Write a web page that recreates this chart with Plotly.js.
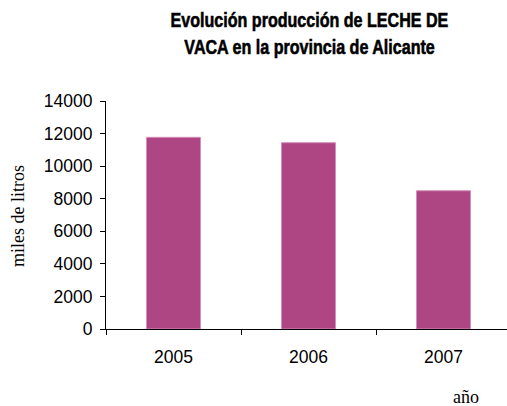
<!DOCTYPE html>
<html>
<head>
<meta charset="utf-8">
<script src="https://cdn.plot.ly/plotly-3.0.1.min.js"></script>
<style>
html,body{margin:0;padding:0;overflow:hidden;background:#fff;}
#chart{width:512px;height:406px;}
</style>
</head>
<body>
<div id="chart"></div>
<script>
const years = ['2005', '2006', '2007'];
const produccion = [11770, 11440, 8490];
const yTicks = [0, 2000, 4000, 6000, 8000, 10000, 12000, 14000];
const titleLines = ['Evolución producción de LECHE DE', 'VACA en la provincia de Alicante'];

const trace = {
  type: 'bar',
  x: years,
  y: produccion,
  width: 0.4,
  marker: {color: '#AD4682', line: {color: '#D68EBA', width: 1}},
  hoverinfo: 'x+y'
};

const titleFont = {family: '"Liberation Sans Narrow", "Liberation Sans", "DejaVu Sans", sans-serif', size: 21, color: '#000', weight: 'bold'};
const serifFont = {family: '"Liberation Serif", "Times New Roman", serif', size: 18, color: '#000'};
const tickFont = {family: 'Arial, "Liberation Sans", sans-serif', size: 17.5, color: '#000'};

const layout = {
  width: 512,
  height: 406,
  margin: {l: 106, r: 1, t: 101, b: 77},
  paper_bgcolor: '#ffffff',
  plot_bgcolor: '#ffffff',
  showlegend: false,
  xaxis: {
    type: 'category',
    range: [-0.5, 2.5],
    showline: true, linecolor: '#000', linewidth: 1,
    ticks: 'outside', tickson: 'boundaries', ticklen: 5, tickcolor: '#000', tickwidth: 1,
    ticklabelstandoff: 12,
    tickfont: tickFont,
    showgrid: false, zeroline: false, fixedrange: true
  },
  yaxis: {
    range: [0, 14000],
    tickvals: yTicks,
    ticktext: yTicks.map(String),
    showline: true, linecolor: '#000', linewidth: 1,
    ticks: 'outside', ticklen: 5, tickcolor: '#000', tickwidth: 1,
    ticklabelstandoff: 4,
    tickfont: tickFont,
    showgrid: false, zeroline: false, fixedrange: true
  },
  annotations: [
    {text: titleLines[0], xref: 'paper', yref: 'paper', x: (309 - 106) / 405, y: (329 - 20) / 228,
     xanchor: 'center', yanchor: 'middle', showarrow: false, font: titleFont},
    {text: titleLines[1], xref: 'paper', yref: 'paper', x: (309 - 106) / 405, y: (329 - 47) / 228,
     xanchor: 'center', yanchor: 'middle', showarrow: false, font: titleFont},
    {text: 'miles de litros', xref: 'paper', yref: 'paper', x: (18 - 106) / 405, y: (329 - 216) / 228,
     xanchor: 'center', yanchor: 'middle', textangle: -90, showarrow: false, font: serifFont},
    {text: 'año', xref: 'paper', yref: 'paper', x: (466 - 106) / 405, y: -(397 - 329) / 228,
     xanchor: 'center', yanchor: 'middle', showarrow: false, font: serifFont}
  ]
};

Plotly.newPlot('chart', [trace], layout, {displayModeBar: false, staticPlot: true}).then(function () {
  // emulate a narrow (condensed) heavy face for the title by squeezing the text horizontally
  const texts = document.querySelectorAll('.annotation text.annotation-text');
  const targetWidth = 278;
  const first = texts[0];
  if (!first) return;
  const w0 = first.getBBox().width;
  const s = targetWidth / w0;
  [0, 1].forEach(function (i) {
    const t = texts[i];
    if (!t) return;
    const bb = t.getBBox();
    const cx = bb.x + bb.width / 2;
    t.setAttribute('transform', 'translate(' + cx + ',0) scale(' + s + ',1) translate(' + (-cx) + ',0)');
    t.style.stroke = '#000';
    t.style.strokeWidth = '0.6px';
  });
});
</script>
</body>
</html>
